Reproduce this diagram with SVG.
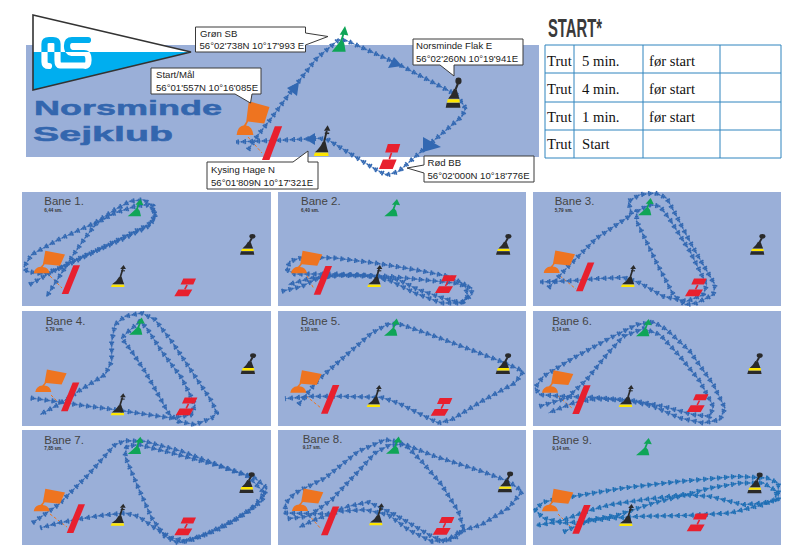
<svg xmlns="http://www.w3.org/2000/svg" width="795" height="559" viewBox="0 0 795 559">
<style>
.sea{fill:#9AAFD8}
.t{font-family:"Liberation Sans",Arial,sans-serif}
.ttl{font-size:11.5px;fill:#444}
.sub{font-size:4.6px;font-weight:bold;fill:#333}
.box{fill:#fff;stroke:#3a3a3a;stroke-width:1}
.lab{font-size:9.6px;fill:#222}
.ser{font-family:"Liberation Serif","Times New Roman",serif;font-size:14.67px;fill:#111}
.grid{stroke:#2F84BE;stroke-width:1;fill:#fff}
.club{font-size:21px;font-weight:bold;fill:#3366AE;stroke:#3366AE;stroke-width:.5}
.dash{stroke:#EE7420;stroke-width:1;stroke-dasharray:3 2;fill:none}
.l0,.l1,.l2,.l3{fill:none;stroke:#3268B2;stroke-linejoin:round}
.l0{stroke-width:2}
.l1{stroke-width:15;stroke-dasharray:5 16}
.l2{stroke-width:10;stroke-dasharray:5 16;stroke-dashoffset:-5}
.l3{stroke-width:5;stroke-dasharray:5 16;stroke-dashoffset:-10}
.big{fill:#3268B2}
.s9 use{stroke:#1F6FB5}
</style>
<defs>
<clipPath id="upper"><rect x="30" y="10" width="170" height="42"/></clipPath>
<clipPath id="lower"><rect x="30" y="52" width="170" height="42"/></clipPath>
<g id="flag"><path d="M-8 0Q-7-6-1-6.5L1.2-9 3.6-22.5 23.3-18.7 18.3-7.6 3-9 1-6.4Q7-6 8 0Z" fill="#EE7420"/></g>
<g id="bar"><path d="M0 0H6.7L18.3-28.7H11.7Z" fill="#E8202E"/></g>
<g id="north"><path d="M-7 0H6.5L6-2.5H-6Z" fill="#FFE600"/><path d="M-6-2.7H6.2Q5-5.5 4.2-8.5L3.5-10.5 1-10Q-1-6-6-2.7Z" fill="#2A2A2A"/><path d="M2.3-10 4.8-18" stroke="#2A2A2A" stroke-width="1.7" fill="none"/><path d="M2.2-18H8L5.6-22Z" fill="#2A2A2A"/><path d="M3-16.2H7" stroke="#2A2A2A" stroke-width="1.1"/></g>
<g id="east"><path d="M0 0H14.3L13.6-3.4H1Z" fill="#2A2A2A"/><path d="M1.2-3.6H13.8L13.3-5.9H2Z" fill="#FFE600"/><path d="M2.4-6.1H13.2Q12-8.6 10.8-12.4L8-13Q6-9 2.4-6.1Z" fill="#2A2A2A"/><path d="M9.5-12.5 11.8-16.5" stroke="#2A2A2A" stroke-width="1.9" fill="none"/><ellipse cx="12.4" cy="-18.4" rx="3" ry="2.4" fill="#2A2A2A"/></g>
<g id="mark"><path d="M0 0H14L18-6.7H4ZM9-17.7H21.7L19-11.7H6.3Z" fill="#E8202E"/><path d="M10.5-7 12.8-11.5" stroke="#E8202E" stroke-width="1.6" fill="none"/></g>
<g id="green"><path d="M0 0H13.3L12-5.5 10.3-7.5 11.8-11.5 15.8-11 12.7-17.3 7.6-11.5 10-11.5 8.3-7.5Q5-4 0 0Z" fill="#0FA557"/></g>
<path id="r0" d="M-66 450-36 405 0 360 70 265 140 175 205 120 230 122 380 190 560 285 587 325 575 350 470 440 385 515 350 525 320 510 175 420 150 415 0 422-102 426"/>
<path id="r1" d="M43 290 150 230 260 180 400 110 420 85 415 55 385 35 345 40 300 65 240 105 130 155 50 200 28 235 35 250 85 258 150 235 240 190 330 150 400 115 420 90 420 70 395 50 360 55 300 75 245 105 210 150 175 200 130 270 95 325"/>
<path id="r2" d="M20 310 80 295 120 275 170 262 240 260 340 265 440 275 540 285 590 300 590 320 560 345 500 345 420 315 350 280 280 262 180 258 60 258 35 245 45 220 85 207 180 210 300 225 420 245 520 265 570 290 578 325 560 345 510 332 430 305 370 275 300 265 200 262 110 270 40 290"/>
<path id="r3" d="M55 300 110 240 200 150 305 80 295 40 330 20 375 15 410 30 440 85 490 180 555 290 550 320 500 345 465 350 430 320 380 225 320 100 320 70 360 50 390 55 420 95 480 190 530 290 520 320 470 340 400 325 330 285 280 268 200 272 130 278 30 282"/>
<path id="r4" d="M47 270 120 280 200 292 300 305 400 320 470 330 530 320 540 290 500 210 440 130 395 60 375 40 335 75 320 90 350 130 390 190 430 260 460 315 490 340 540 350 590 330 605 315 590 280 530 190 470 100 420 35 380 15 330 25 300 50 290 100 290 160 270 200 190 250 130 290 75 320"/>
<path id="r5" d="M70 290 130 215 215 140 290 75 340 48 380 50 480 85 600 130 690 165 745 190 720 225 620 280 530 335 490 345 440 320 370 285 320 268 200 265 110 265 30 272"/>
<path id="r6" d="M28 295 110 270 170 215 230 140 280 85 340 62 390 80 450 145 510 220 550 295 540 325 490 320 400 295 310 278 190 268 100 265 30 260 15 240 40 205 130 150 240 90 320 50 370 42 410 65 480 130 550 230 585 300 570 335 520 345 450 330 370 295 300 278 200 272 130 285 55 315"/>
<path id="r7" d="M52 285 130 230 220 140 300 50 330 38 390 40 500 70 620 115 720 150 755 180 740 220 660 275 570 320 490 345 450 325 410 270 370 180 330 85 335 55 370 50 470 75 600 110 700 145 748 195 710 245 620 300 520 340 470 330 420 300 370 265 330 255 260 262 200 272 130 285 75 300"/>
<path id="r8" d="M38 272 100 265 170 215 250 130 300 75 345 50 390 50 440 100 500 170 550 250 565 300 550 325 510 340 470 325 420 295 360 260 280 222 220 235 160 258 30 255 32 225 60 195 150 150 250 70 330 35 370 42 480 85 620 130 700 160 742 190 700 240 620 290 555 310 520 335 470 340 400 305 340 260 270 245 190 250 120 275 72 298"/>
<path id="r9" d="M100 312 180 275 260 262 370 225 450 205 540 180 630 165 700 165 740 190 735 215 700 230 600 255 480 262 330 265 250 270 170 280 100 285 40 270 15 245 40 222 130 205 280 180 450 160 620 145 710 150 745 165 745 215 700 225 640 230 540 205 460 200 340 215 240 230 170 250 90 280 20 292"/>
</defs>

<g id="background">
<rect x="26" y="45" width="513" height="112" class="sea"/>
<rect x="22" y="192" width="249" height="114" class="sea"/>
<rect x="278" y="192" width="248" height="114" class="sea"/>
<rect x="533" y="192" width="248" height="114" class="sea"/>
<rect x="22" y="311" width="249" height="115" class="sea"/>
<rect x="278" y="311" width="248" height="115" class="sea"/>
<rect x="533" y="311" width="248" height="115" class="sea"/>
<rect x="22" y="430" width="249" height="115" class="sea"/>
<rect x="278" y="430" width="248" height="115" class="sea"/>
<rect x="533" y="430" width="248" height="115" class="sea"/>
</g>

<g id="logo">
<path d="M33 15 191 52 33 90Z" fill="#fff"/>
<path d="M33 52H191L33 90Z" fill="#00AEEF"/>
<g fill="none" stroke-width="6.2" stroke-linejoin="round" stroke-linecap="round">
<g clip-path="url(#upper)" stroke="#00AEEF"><path d="M44.5 60V44Q44.5 40 49 40H53Q57.5 40 57.5 44V60"/><path d="M88 40H72Q67 40 67 46T72 53H84Q88.5 53 88.5 60T84 65.5H60"/></g>
<g clip-path="url(#lower)" stroke="#fff"><path d="M44.5 52V62Q44.5 66 49 66"/><path d="M88 40H72Q67 40 67 46T72 53H84Q88.5 53 88.5 60T84 65.5H60Q57.5 65.5 57.5 60V53"/></g>
</g>
<path d="M33 15 191 52 33 90Z" fill="none" stroke="#333" stroke-width="1.6"/>
</g>
<g id="club-name" class="t">
<text x="34" y="115" class="club" textLength="188" lengthAdjust="spacingAndGlyphs">Norsminde</text>
<text x="33" y="141" class="club" textLength="140" lengthAdjust="spacingAndGlyphs">Sejklub</text>
</g>

<g id="start-table">
<text x="548" y="37" class="t" font-size="25" font-weight="bold" fill="#3a3a3a" textLength="54" lengthAdjust="spacingAndGlyphs">START*</text>
<path class="grid" d="M545 45H781V158H545ZM545 73H781M545 102H781M545 130H781M574 45V158M643 45V158M720 45V158"/>
<g class="ser">
<text x="547" y="66">Trut</text><text x="582" y="66">5 min.</text><text x="649" y="66">før start</text>
<text x="547" y="93.5">Trut</text><text x="582" y="93.5">4 min.</text><text x="649" y="93.5">før start</text>
<text x="547" y="121.5">Trut</text><text x="582" y="121.5">1 min.</text><text x="649" y="121.5">før start</text>
<text x="547" y="149">Trut</text><text x="582" y="149">Start</text>
</g>
</g>

<g id="panel-titles" class="t">
<text x="44.3" y="205.3" class="ttl">Bane 1.</text><text x="44.3" y="211.5" class="sub">6,44 sm.</text>
<text x="301" y="205.3" class="ttl">Bane 2.</text><text x="301" y="211.5" class="sub">6,40 sm.</text>
<text x="554.7" y="205.3" class="ttl">Bane 3.</text><text x="554.7" y="211.5" class="sub">5,79 sm.</text>
<text x="45.7" y="324.7" class="ttl">Bane 4.</text><text x="45.7" y="330.7" class="sub">5,79 sm.</text>
<text x="300.7" y="324.7" class="ttl">Bane 5.</text><text x="300.7" y="330.7" class="sub">5,10 sm.</text>
<text x="552.3" y="324.7" class="ttl">Bane 6.</text><text x="552.3" y="330.7" class="sub">8,14 sm.</text>
<text x="44.3" y="443.7" class="ttl">Bane 7.</text><text x="44.3" y="449.7" class="sub">7,85 sm.</text>
<text x="302.7" y="443" class="ttl">Bane 8.</text><text x="302.7" y="448.7" class="sub">9,17 sm.</text>
<text x="552.3" y="443.7" class="ttl">Bane 9.</text><text x="552.3" y="449.7" class="sub">9,14 sm.</text>
</g>

<g id="start-lines">
<path class="dash" d="M248 137 262 153M50 276 62 288M307 276 314 289M560 276 576 289M51 395 61 405M306 396 321 408M558 396 572 408M50 514 67 527M308 514 321 529M558 514 572 528"/>
</g>

<g id="connectors">
<g id="route-main" transform="translate(270 0) scale(.33333)"><use href="#r0" class="l0"/><use href="#r0" class="l1"/><use href="#r0" class="l2"/><use href="#r0" class="l3"/></g>
<g id="route-main-arrows" class="big"><path d="M287 88 299 82 297 96Z"/><path d="M388 68 394 57 402 66Z"/><path d="M423 137 441 147 423 152Z"/><path d="M305 139 315 133 315 145Z"/></g>
<g id="route-1" transform="translate(15 188) scale(.33333)"><use href="#r1" class="l0"/><use href="#r1" class="l1"/><use href="#r1" class="l2"/><use href="#r1" class="l3"/></g>
<g id="route-2" transform="translate(275 188) scale(.33333)"><use href="#r2" class="l0"/><use href="#r2" class="l1"/><use href="#r2" class="l2"/><use href="#r2" class="l3"/></g>
<g id="route-3" transform="translate(530 188) scale(.33333)"><use href="#r3" class="l0"/><use href="#r3" class="l1"/><use href="#r3" class="l2"/><use href="#r3" class="l3"/></g>
<g id="route-4" transform="translate(15 308) scale(.33333)"><use href="#r4" class="l0"/><use href="#r4" class="l1"/><use href="#r4" class="l2"/><use href="#r4" class="l3"/></g>
<g id="route-5" transform="translate(275 308) scale(.33333)"><use href="#r5" class="l0"/><use href="#r5" class="l1"/><use href="#r5" class="l2"/><use href="#r5" class="l3"/></g>
<g id="route-6" transform="translate(530 308) scale(.33333)"><use href="#r6" class="l0"/><use href="#r6" class="l1"/><use href="#r6" class="l2"/><use href="#r6" class="l3"/></g>
<g id="route-7" transform="translate(15 428) scale(.33333)"><use href="#r7" class="l0"/><use href="#r7" class="l1"/><use href="#r7" class="l2"/><use href="#r7" class="l3"/></g>
<g id="route-8" transform="translate(275 428) scale(.33333)"><use href="#r8" class="l0"/><use href="#r8" class="l1"/><use href="#r8" class="l2"/><use href="#r8" class="l3"/></g>
<g id="route-9" class="s9" transform="translate(530 428) scale(.33333)"><use href="#r9" class="l0"/><use href="#r9" class="l1"/><use href="#r9" class="l2"/><use href="#r9" class="l3"/></g>
</g>

<g id="main-marks">
<g id="main-start" transform="translate(245 135) scale(1.05 1.5)"><use href="#flag"/></g>
<g id="main-bar" transform="translate(262 160) scale(1.1 1.18)"><use href="#bar"/></g>
<g id="main-green" transform="translate(331.7 51.7) scale(1.05 1.48)"><use href="#green"/></g>
<g id="main-north" transform="translate(321.5 156) scale(1.1 1.4)"><use href="#north"/></g>
<g id="main-east" transform="translate(445.7 107.7) scale(1.03 1.45)"><use href="#east"/></g>
<g id="main-mark" transform="translate(379 169) scale(.98 1.41)"><use href="#mark"/></g>
</g>

<g id="marks-1"><use href="#flag" x="41.7" y="273.3"/><use href="#bar" x="61.7" y="294"/><use href="#north" x="118" y="287"/><use href="#mark" x="174.3" y="296.3"/><use href="#green" x="127.7" y="216.3"/><use href="#east" x="240" y="254.7"/></g>
<g id="marks-2"><use href="#flag" x="299" y="273.3"/><use href="#bar" x="313.7" y="294.7"/><use href="#north" x="374.3" y="287"/><use href="#mark" x="435" y="293"/><use href="#green" x="384.3" y="216.3"/><use href="#east" x="496" y="254.7"/></g>
<g id="marks-3"><use href="#flag" x="551.7" y="273"/><use href="#bar" x="576" y="291.3"/><use href="#north" x="628" y="287"/><use href="#mark" x="685" y="296.3"/><use href="#green" x="638" y="215.3"/><use href="#east" x="750" y="254.7"/></g>
<g id="marks-4"><use href="#flag" x="43.3" y="392"/><use href="#bar" x="61" y="411.3"/><use href="#north" x="117.7" y="415.3"/><use href="#mark" x="175.7" y="415.3"/><use href="#green" x="129" y="334.7"/><use href="#east" x="240.7" y="374"/></g>
<g id="marks-5"><use href="#flag" x="298.3" y="392.7"/><use href="#bar" x="321" y="413.7"/><use href="#north" x="373.7" y="407"/><use href="#mark" x="430.7" y="415.7"/><use href="#green" x="384" y="335.7"/><use href="#east" x="495.7" y="374"/></g>
<g id="marks-6"><use href="#flag" x="550" y="392.7"/><use href="#bar" x="572.3" y="414"/><use href="#north" x="625.7" y="407"/><use href="#mark" x="686.7" y="412"/><use href="#green" x="636" y="336.3"/><use href="#east" x="747.3" y="374"/></g>
<g id="marks-7"><use href="#flag" x="41.7" y="511.3"/><use href="#bar" x="66.7" y="533"/><use href="#north" x="117.7" y="525.7"/><use href="#mark" x="174.3" y="535.3"/><use href="#green" x="127.7" y="454"/><use href="#east" x="239.3" y="493"/></g>
<g id="marks-8"><use href="#flag" x="300" y="511"/><use href="#bar" x="321" y="535.3"/><use href="#north" x="376" y="525.3"/><use href="#mark" x="432.7" y="534.7"/><use href="#green" x="386" y="453.7"/><use href="#east" x="497.7" y="492.3"/></g>
<g id="marks-9"><use href="#flag" x="550" y="511.3"/><use href="#bar" x="572.3" y="533.7"/><use href="#north" x="626" y="526"/><use href="#mark" x="686.7" y="531.3"/><use href="#green" x="636" y="455.3"/><use href="#east" x="747.3" y="493.3"/></g>

<g id="callout-green" class="t"><path class="box" d="M195.5 27H305.5V33L328 36.5 305.5 45V52H195.5Z"/><text x="200" y="37" class="lab">Grøn SB</text><text x="199.5" y="49" class="lab">56°02'738N 10°17'993 E</text></g>
<g id="callout-start" class="t"><path class="box" d="M151 68H261V94H252L250.5 103 235 94H151Z"/><text x="156" y="78" class="lab">Start/Mål</text><text x="156" y="91" class="lab">56°01'557N 10°16'085E</text></g>
<g id="callout-kysing" class="t"><path class="box" d="M207 162H293L308 151V162H318V189H207Z"/><text x="211" y="173" class="lab">Kysing Hage N</text><text x="211" y="186" class="lab">56°01'809N 10°17'321E</text></g>
<g id="callout-flak" class="t"><path class="box" d="M413 39H523V65H454V76L440 65H413Z"/><text x="416" y="49" class="lab">Norsminde Flak E</text><text x="416" y="62" class="lab">56°02'260N 10°19'941E</text></g>
<g id="callout-rod" class="t"><path class="box" d="M424 156H534V182H424V173L407 168 424 165Z"/><text x="427.5" y="166" class="lab">Rød BB</text><text x="427.5" y="179" class="lab">56°02'000N 10°18'776E</text></g>
</svg>
